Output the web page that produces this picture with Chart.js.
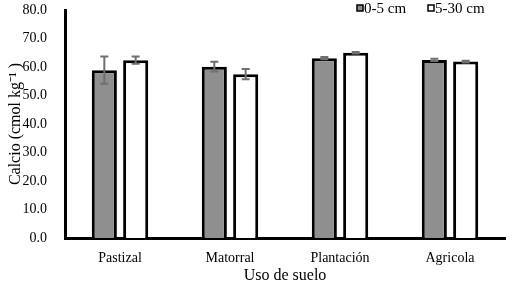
<!DOCTYPE html>
<html>
<head>
<meta charset="utf-8">
<script src="https://cdn.jsdelivr.net/npm/chart.js@4/dist/chart.umd.min.js"></script>
<style>
  body { margin: 0; background: #fff; }
  #wrap { width: 514px; height: 286px; }
</style>
</head>
<body>
<div id="wrap"><canvas id="calcio-chart"></canvas></div>
<script>
const categories = ['Pastizal', 'Matorral', 'Plantación', 'Agricola'];
const seriesNames = ['0-5 cm', '5-30 cm'];
const shallow = [58.9, 60.1, 63.1, 62.5];
const shallowErr = [4.8, 1.7, 0.4, 0.4];
const deep = [62.4, 57.5, 65.0, 61.9];
const deepErr = [1.3, 1.8, 0.3, 0.3];
const yTicks = [0, 10, 20, 30, 40, 50, 60, 70, 80];

const serif = "'Liberation Serif', 'Times New Roman', serif";

// error bars drawn on top of each bar
const errorBars = {
    id: 'errorBars',
    afterDatasetsDraw(chart) {
        const ctx = chart.ctx;
        const yScale = chart.scales.y;
        chart.data.datasets.forEach((ds, i) => {
            const meta = chart.getDatasetMeta(i);
            meta.data.forEach((bar, j) => {
                const v = ds.data[j];
                const e = ds.errors[j];
                const top = yScale.getPixelForValue(v + e);
                const bottom = yScale.getPixelForValue(v - e);
                ctx.save();
                ctx.strokeStyle = '#6f6f6f';
                ctx.lineWidth = 2;
                ctx.beginPath();
                ctx.moveTo(bar.x, top);
                ctx.lineTo(bar.x, bottom);
                ctx.moveTo(bar.x - 4, top);
                ctx.lineTo(bar.x + 4, top);
                ctx.moveTo(bar.x - 4, bottom);
                ctx.lineTo(bar.x + 4, bottom);
                ctx.stroke();
                ctx.restore();
            });
        });
    }
};

// legend in the top right corner, overlapping the plot top
const cornerLegend = {
    id: 'cornerLegend',
    afterDraw(chart) {
        const ctx = chart.ctx;
        const xs = [357, 428];
        ctx.save();
        ctx.font = '15px ' + serif;
        ctx.textBaseline = 'middle';
        chart.data.datasets.forEach((ds, i) => {
            ctx.fillStyle = ds.backgroundColor;
            ctx.fillRect(xs[i], 5, 6, 6);
            ctx.strokeStyle = '#000';
            ctx.lineWidth = 1.5;
            ctx.strokeRect(xs[i], 5, 6, 6);
            ctx.fillStyle = '#000';
            ctx.fillText(ds.label, xs[i] + 7, 9);
        });
        ctx.restore();
    }
};

new Chart(document.getElementById('calcio-chart').getContext('2d'), {
    type: 'bar',
    data: {
        labels: categories,
        datasets: [
            {
                label: seriesNames[0],
                data: shallow,
                errors: shallowErr,
                backgroundColor: '#8f8f8f',
                borderColor: '#000',
                borderWidth: 3
            },
            {
                label: seriesNames[1],
                data: deep,
                errors: deepErr,
                backgroundColor: '#ffffff',
                borderColor: '#000',
                borderWidth: 3
            }
        ]
    },
    options: {
        responsive: true,
        maintainAspectRatio: false,
        animation: false,
        layout: { padding: { top: 10, right: 9, left: 0, bottom: 0 } },
        datasets: {
            bar: { categoryPercentage: 0.57, barPercentage: 0.8 }
        },
        plugins: {
            legend: { display: false },
            tooltip: { enabled: false }
        },
        scales: {
            x: {
                grid: { display: false },
                border: { color: '#000', width: 3 },
                ticks: { color: '#000', font: { family: serif, size: 14 }, padding: 4 },
                title: {
                    display: true,
                    text: 'Uso de suelo',
                    color: '#000',
                    font: { family: serif, size: 16 },
                    padding: { top: 0, bottom: 1 }
                },
                afterFit(scale) { scale.height = 48; }
            },
            y: {
                min: 0,
                max: 80,
                afterBuildTicks(scale) { scale.ticks = yTicks.map(v => ({ value: v })); },
                grid: { display: false },
                border: { color: '#000', width: 3 },
                ticks: {
                    color: '#000',
                    font: { family: serif, size: 14 },
                    padding: 10,
                    callback: v => v.toFixed(1)
                },
                title: {
                    display: true,
                    text: 'Calcio (cmol kg⁻¹ )',
                    color: '#000',
                    font: { family: serif, size: 16 },
                    padding: { top: 6, bottom: 2 }
                },
                afterFit(scale) {
                    scale.width = 65;
                    scale.paddingTop = 0;
                    scale.paddingBottom = 0;
                }
            }
        }
    },
    plugins: [errorBars, cornerLegend]
});
</script>
</body>
</html>
